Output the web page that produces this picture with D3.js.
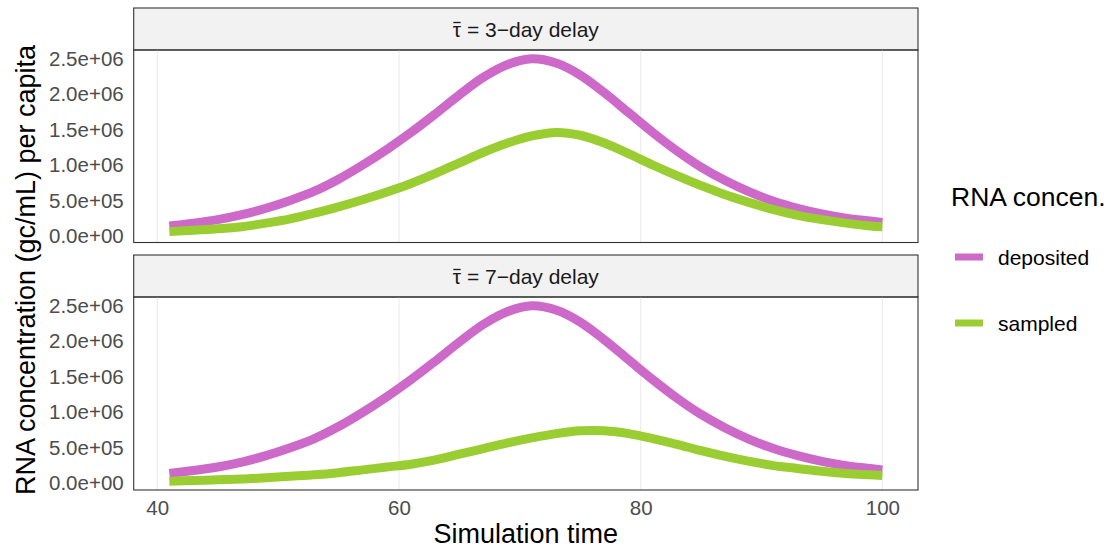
<!DOCTYPE html>
<html>
<head>
<meta charset="utf-8">
<script src="https://cdn.jsdelivr.net/npm/d3@7"></script>
<style>
  body { margin: 0; background: #fff; }
  text { font-family: "Liberation Sans", Arial, sans-serif; }
</style>
</head>
<body>
<script>
// simulation times (days)
let times = [41, 43, 45, 47, 49, 51, 53, 55, 57, 59, 61, 63, 65, 67, 69, 71,
  73, 75, 77, 79, 81, 83, 85, 87, 89, 91, 93, 95, 97, 99, 100];

// deposited RNA (same in both panels)
let deposited = [0.14e6, 0.18e6, 0.23e6, 0.30e6, 0.39e6, 0.50e6, 0.63e6, 0.80e6,
  1.00e6, 1.22e6, 1.46e6, 1.72e6, 1.99e6, 2.24e6, 2.42e6, 2.50e6,
  2.44e6, 2.27e6, 2.02e6, 1.74e6, 1.46e6, 1.20e6, 0.97e6, 0.78e6,
  0.62e6, 0.49e6, 0.39e6, 0.31e6, 0.25e6, 0.21e6, 0.19e6];

// sampled RNA, 3-day delay
let sampled3 = [0.06e6, 0.08e6, 0.10e6, 0.13e6, 0.18e6, 0.24e6, 0.32e6, 0.41e6,
  0.51e6, 0.62e6, 0.74e6, 0.88e6, 1.03e6, 1.18e6, 1.31e6, 1.41e6,
  1.46e6, 1.42e6, 1.31e6, 1.16e6, 1.00e6, 0.85e6, 0.71e6, 0.58e6,
  0.47e6, 0.37e6, 0.29e6, 0.23e6, 0.18e6, 0.14e6, 0.13e6];

// sampled RNA, 7-day delay
let sampled7 = [0.03e6, 0.04e6, 0.05e6, 0.06e6, 0.08e6, 0.10e6, 0.12e6, 0.15e6,
  0.19e6, 0.23e6, 0.27e6, 0.33e6, 0.41e6, 0.49e6, 0.57e6, 0.64e6,
  0.70e6, 0.74e6, 0.74e6, 0.70e6, 0.63e6, 0.55e6, 0.46e6, 0.38e6,
  0.31e6, 0.25e6, 0.21e6, 0.17e6, 0.14e6, 0.12e6, 0.11e6];

let delays = [3, 7];
let seriesNames = ['deposited', 'sampled'];
let seriesColors = ['#CD69C9', '#9ACD32'];

let xTicks = [40, 60, 80, 100];
let yTicks = [0, 5e5, 1e6, 1.5e6, 2e6, 2.5e6];
let yTickLabels = ['0.0e+00', '5.0e+05', '1.0e+06', '1.5e+06', '2.0e+06', '2.5e+06'];

let svgWidth = 1112;
let svgHeight = 550;

let panelLeft = 133.7;
let panelRight = 918;
let stripH = 42;
let panels = [
  { top: 50, bottom: 242.5, sampled: sampled3 },
  { top: 297, bottom: 490, sampled: sampled7 }
];

let svg = d3.select('body')
  .append('svg')
  .attr('width', svgWidth)
  .attr('height', svgHeight);

// ggplot-style 5% expansion
let xExt = d3.extent(times);
let xPad = (xExt[1] - xExt[0]) * 0.05;
let xScale = d3.scaleLinear()
  .domain([xExt[0] - xPad, xExt[1] + xPad])
  .range([panelLeft, panelRight]);

let allY = deposited.concat(sampled3, sampled7);
let yExt = d3.extent(allY);
let yPad = (yExt[1] - yExt[0]) * 0.05;

panels.forEach(function (p, i) {
  let yScale = d3.scaleLinear()
    .domain([yExt[0] - yPad, yExt[1] + yPad])
    .range([p.bottom, p.top]);

  // strip
  svg.append('rect')
    .attr('x', panelLeft)
    .attr('y', p.top - stripH)
    .attr('width', panelRight - panelLeft)
    .attr('height', stripH)
    .attr('fill', '#f2f2f2')
    .attr('stroke', '#333')
    .attr('stroke-width', 1.1);

  let baseY = p.top - stripH / 2 + 7.5;
  let strip = svg.append('text')
    .attr('x', (panelLeft + panelRight) / 2)
    .attr('y', baseY)
    .attr('text-anchor', 'middle')
    .attr('font-size', '21px')
    .attr('fill', '#1a1a1a')
    .text('\u03C4 = ' + delays[i] + '\u2212day delay');

  // bar over tau
  let n = strip.node();
  let x0 = n.getStartPositionOfChar(0).x;
  let x1 = n.getEndPositionOfChar(0).x;
  svg.append('line')
    .attr('x1', x0 + 0.5)
    .attr('x2', x1 - 0.5)
    .attr('y1', baseY - 14)
    .attr('y2', baseY - 14)
    .attr('stroke', '#1a1a1a')
    .attr('stroke-width', 1.3);

  // vertical grid
  svg.append('g')
    .selectAll('line')
    .data(xTicks)
    .enter()
    .append('line')
    .attr('x1', d => xScale(d))
    .attr('x2', d => xScale(d))
    .attr('y1', p.top)
    .attr('y2', p.bottom)
    .attr('stroke', '#ebebeb')
    .attr('stroke-width', 1.1);

  let yAxis = d3.axisLeft(yScale)
    .tickValues(yTicks)
    .tickSize(0)
    .tickPadding(10)
    .tickFormat((d, k) => yTickLabels[k]);

  let gy = svg.append('g')
    .attr('transform', `translate(${panelLeft}, 0)`)
    .call(yAxis);
  gy.select('.domain').remove();
  gy.selectAll('text')
    .attr('font-size', '20.5px')
    .attr('font-family', '"Liberation Sans", Arial, sans-serif')
    .attr('fill', '#4d4d4d');

  let line = d3.line()
    .x((d, k) => xScale(times[k]))
    .y(d => yScale(d))
    .curve(d3.curveCatmullRom);

  [deposited, p.sampled].forEach(function (vals, s) {
    svg.append('path')
      .datum(vals)
      .attr('d', line)
      .attr('fill', 'none')
      .attr('stroke', seriesColors[s])
      .attr('stroke-width', 9)
      .attr('stroke-linecap', 'butt');
  });

  // panel border
  svg.append('rect')
    .attr('x', panelLeft)
    .attr('y', p.top)
    .attr('width', panelRight - panelLeft)
    .attr('height', p.bottom - p.top)
    .attr('fill', 'none')
    .attr('stroke', '#333')
    .attr('stroke-width', 1.1);

  if (i === panels.length - 1) {
    let xAxis = d3.axisBottom(xScale)
      .tickValues(xTicks)
      .tickSize(0)
      .tickPadding(10);
    let gx = svg.append('g')
      .attr('transform', `translate(0, ${p.bottom})`)
      .call(xAxis);
    gx.select('.domain').remove();
    gx.selectAll('text')
      .attr('font-size', '20.5px')
      .attr('font-family', '"Liberation Sans", Arial, sans-serif')
      .attr('fill', '#4d4d4d');
  }
});

// axis titles
svg.append('text')
  .attr('x', (panelLeft + panelRight) / 2)
  .attr('y', 543)
  .attr('text-anchor', 'middle')
  .attr('font-size', '27px')
  .attr('fill', '#000')
  .text('Simulation time');

svg.append('text')
  .attr('transform', `translate(35, ${(panels[0].top + panels[1].bottom) / 2}) rotate(-90)`)
  .attr('text-anchor', 'middle')
  .attr('font-size', '27px')
  .attr('fill', '#000')
  .text('RNA concentration (gc/mL) per capita');

// legend
let legend = svg.append('g')
  .attr('transform', 'translate(951, 0)');

legend.append('text')
  .attr('x', 0)
  .attr('y', 206)
  .attr('font-size', '26.5px')
  .attr('fill', '#000')
  .text('RNA concen.');

let keyY = d3.scalePoint()
  .domain(seriesNames)
  .range([257, 323]);

seriesNames.forEach(function (name, s) {
  legend.append('line')
    .attr('x1', 4)
    .attr('x2', 32)
    .attr('y1', keyY(name))
    .attr('y2', keyY(name))
    .attr('stroke', seriesColors[s])
    .attr('stroke-width', 7);
  legend.append('text')
    .attr('x', 47)
    .attr('y', keyY(name) + 7.5)
    .attr('font-size', '21px')
    .attr('fill', '#000')
    .text(name);
});
</script>
</body>
</html>
